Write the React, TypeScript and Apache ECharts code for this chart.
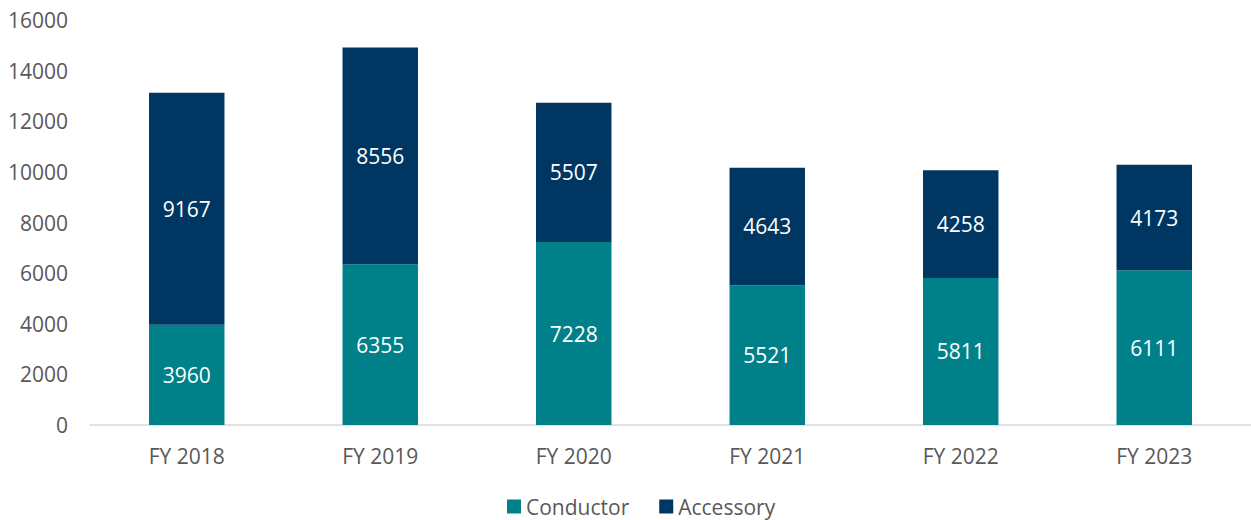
import React, { useEffect, useRef } from "react";
import * as echarts from "echarts";

const categories = ["FY 2018", "FY 2019", "FY 2020", "FY 2021", "FY 2022", "FY 2023"];
const conductor = [3960, 6355, 7228, 5521, 5811, 6111];
const accessory = [9167, 8556, 5507, 4643, 4258, 4173];
const yMin = 0;
const yMax = 16000;
const yInterval = 2000;

const FONT = "'Open Sans', 'Noto Sans', sans-serif";

export default function App() {
  const ref = useRef<HTMLDivElement>(null);
  useEffect(() => {
    if (!ref.current) return;
    const chart = echarts.init(ref.current, undefined, { renderer: "svg" });
    const label = {
      show: true,
      position: "inside",
      color: "#ffffff",
      fontSize: 21,
      fontFamily: FONT,
    };
    chart.setOption({
      animation: false,
      textStyle: { fontFamily: FONT },
      grid: { left: 90, right: -2, top: 20, bottom: 95, containLabel: false },
      legend: {
        bottom: 3,
        left: 507,
        padding: 0,
        itemWidth: 14,
        itemHeight: 14,
        itemGap: 30,
        icon: "rect",
        textStyle: { fontSize: 21, color: "#595959", fontFamily: FONT },
        data: ["Conductor", "Accessory"],
      },
      xAxis: {
        type: "category",
        data: categories,
        axisLine: { lineStyle: { color: "#D9D9D9", width: 1.5 } },
        axisTick: { show: false },
        axisLabel: { fontSize: 21, color: "#595959", margin: 20, fontFamily: FONT },
      },
      yAxis: {
        type: "value",
        min: yMin,
        max: yMax,
        interval: yInterval,
        splitLine: { show: false },
        axisLine: { show: false },
        axisTick: { show: false },
        axisLabel: {
          fontSize: 21,
          color: "#595959",
          margin: 22,
          fontFamily: FONT,
          formatter: (v: number) => String(v),
        },
      },
      series: [
        {
          name: "Conductor",
          type: "bar",
          stack: "total",
          data: conductor,
          barWidth: "39%",
          itemStyle: { color: "#00818A" },
          label,
        },
        {
          name: "Accessory",
          type: "bar",
          stack: "total",
          data: accessory,
          barWidth: "39%",
          itemStyle: { color: "#003662" },
          label,
        },
      ],
    });
    return () => chart.dispose();
  }, []);
  return (
    <div
      ref={ref}
      style={{ position: "absolute", left: 0, top: 0, width: 1251, height: 520 }}
    />
  );
}
